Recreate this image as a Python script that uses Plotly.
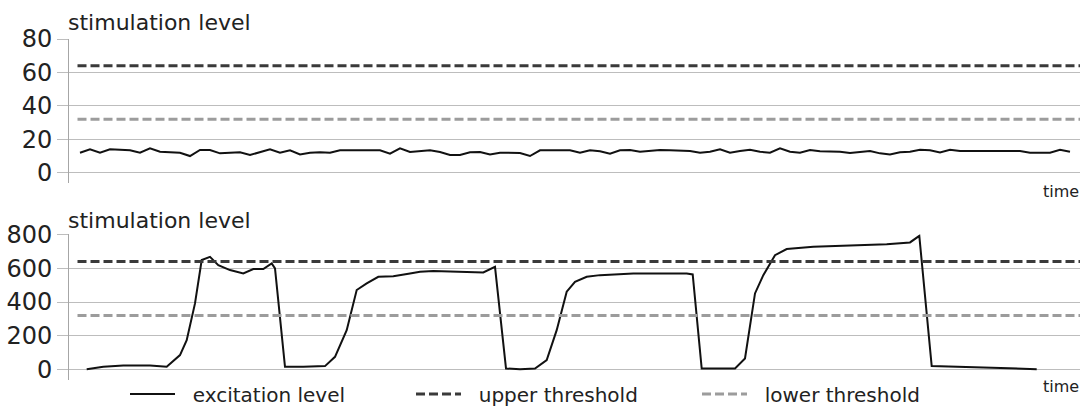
import plotly.graph_objects as go

# ---------------- data ----------------
# top panel: stimulation level (low), sampled every time step
top_time = list(range(100))
top_excitation = [
    12.1, 14.1, 12.1, 14.1, 13.9, 13.5, 12.1, 14.7, 12.7, 12.5,
    12.1, 10.1, 13.7, 13.7, 11.7, 12.1, 12.3, 10.7, 12.5, 14.1,
    12.1, 13.5, 11.1, 12.1, 12.3, 12.1, 13.5, 13.5, 13.5, 13.5,
    13.5, 11.5, 14.7, 12.5, 13.1, 13.5, 12.5, 10.7, 10.7, 12.3,
    12.5, 11.1, 12.1, 12.1, 11.9, 10.1, 13.5, 13.5, 13.5, 13.5,
    12.1, 13.5, 12.9, 11.5, 13.5, 13.7, 12.7, 13.3, 13.7, 13.5,
    13.1, 13.1, 12.1, 12.7, 14.1, 12.1, 13.1, 13.9, 12.7, 12.1,
    14.7, 12.7, 12.1, 13.7, 12.9, 12.7, 12.7, 11.9, 12.5, 13.1,
    11.7, 11.1, 12.3, 12.7, 13.9, 13.5, 12.3, 13.9, 13.1, 13.1,
    13.1, 13.1, 13.1, 13.1, 13.1, 12.1, 12.1, 12.1, 13.9, 12.7,
]
top_upper = [64, 64]
top_lower = [32, 32]

# bottom panel: stimulation level (high)
bottom_time = [
    0.67, 2.33, 4.33, 7.0, 8.67, 10.0, 10.67, 11.5, 12.17, 13.0,
    13.83, 15.0, 16.33, 17.33, 18.33, 19.17, 19.5, 20.5, 22.33, 24.5,
    25.5, 26.67, 27.67, 28.67, 29.83, 31.33, 33.0, 34.0, 35.33, 40.33,
    41.5, 42.6, 44.0, 45.5, 46.67, 47.67, 48.67, 49.5, 50.67, 52.0,
    55.33, 60.67, 61.27, 62.17, 65.5, 66.5, 67.5, 68.33, 69.5, 70.67,
    73.33, 80.67, 83.0, 83.93, 85.17, 95.67,
]
bottom_excitation = [
    4, 18, 26, 26, 18, 87, 175, 392, 648, 667,
    618, 589, 569, 595, 595, 628, 599, 18, 18, 22,
    77, 234, 471, 510, 549, 553, 569, 579, 583, 575,
    608, 8, 4, 8, 57, 234, 461, 520, 549, 559,
    569, 569, 563, 8, 8, 67, 451, 559, 677, 713,
    727, 741, 752, 791, 22, 4,
]
bottom_upper = [640, 640]
bottom_lower = [320, 320]

threshold_time = [-0.25, 100]

series_names = ["excitation level", "upper threshold", "lower threshold"]
y_ticks_top = [0, 20, 40, 60, 80]
y_ticks_bottom = [0, 200, 400, 600, 800]
panel_title = "stimulation level"
x_title = "time"

# ---------------- styles ----------------
FONT = "DejaVu Sans"
C_EXC = "#111111"
C_UP = "#3a3a3a"
C_LOW = "#9c9c9c"
C_GRID = "#bdbdbd"
C_AXIS = "#a6a6a6"
C_TEXT = "#222222"
DASH = "9px,4px"
PAD = "\u00a0\u00a0"  # gap between legend symbol and label

W, H = 1082, 406

def px_y(p):
    return (H - p) / H

fig = go.Figure()

# top panel
fig.add_trace(go.Scatter(x=top_time, y=top_excitation, mode="lines",
                         line=dict(color=C_EXC, width=2), showlegend=False,
                         xaxis="x", yaxis="y"))
fig.add_trace(go.Scatter(x=threshold_time, y=top_upper, mode="lines",
                         line=dict(color=C_UP, width=3, dash=DASH), showlegend=False,
                         xaxis="x", yaxis="y"))
fig.add_trace(go.Scatter(x=threshold_time, y=top_lower, mode="lines",
                         line=dict(color=C_LOW, width=3, dash=DASH), showlegend=False,
                         xaxis="x", yaxis="y"))

# bottom panel
fig.add_trace(go.Scatter(x=bottom_time, y=bottom_excitation, mode="lines",
                         name=PAD + series_names[0],
                         line=dict(color=C_EXC, width=2), xaxis="x2", yaxis="y2"))
fig.add_trace(go.Scatter(x=threshold_time, y=bottom_upper, mode="lines",
                         name=PAD + series_names[1],
                         line=dict(color=C_UP, width=3, dash=DASH), xaxis="x2", yaxis="y2"))
fig.add_trace(go.Scatter(x=threshold_time, y=bottom_lower, mode="lines",
                         name=PAD + series_names[2],
                         line=dict(color=C_LOW, width=3, dash=DASH), xaxis="x2", yaxis="y2"))

xdom = [69 / W, 1080 / W]
xcommon = dict(domain=xdom, range=[-1.1, 100], showgrid=False, zeroline=False,
               showticklabels=False, ticks="", showline=False)
ycommon = dict(showgrid=True, gridcolor=C_GRID, gridwidth=1,
               zeroline=True, zerolinecolor=C_GRID, zerolinewidth=1,
               showline=True, linecolor=C_AXIS, linewidth=1,
               ticks="outside", ticklen=11, tickcolor=C_GRID, tickwidth=1,
               tickfont=dict(family=FONT, size=24, color=C_TEXT),
               automargin=False)

fig.update_layout(
    width=W, height=H,
    margin=dict(l=0, r=0, t=0, b=0, autoexpand=False),
    paper_bgcolor="white", plot_bgcolor="white",
    font=dict(family=FONT, color=C_TEXT),
    xaxis=dict(**xcommon, anchor="y"),
    yaxis=dict(**ycommon, domain=[px_y(183), px_y(39)], range=[-6, 80],
               tickvals=y_ticks_top, anchor="x"),
    xaxis2=dict(**xcommon, anchor="y2"),
    yaxis2=dict(**ycommon, domain=[px_y(380), px_y(234.3)], range=[-60, 800],
                tickvals=y_ticks_bottom, anchor="x2"),
    legend=dict(orientation="h", x=125 / W, xanchor="left",
                y=px_y(394), yanchor="middle",
                font=dict(family=FONT, size=20, color=C_TEXT),
                bgcolor="rgba(0,0,0,0)", entrywidth=226, itemwidth=45),
    annotations=[
        dict(text=panel_title, xref="paper", yref="paper", x=66 / W, y=px_y(22),
             xanchor="left", yanchor="middle", showarrow=False,
             font=dict(family=FONT, size=22, color=C_TEXT)),
        dict(text=panel_title, xref="paper", yref="paper", x=66 / W, y=px_y(220),
             xanchor="left", yanchor="middle", showarrow=False,
             font=dict(family=FONT, size=22, color=C_TEXT)),
        dict(text=x_title, xref="paper", yref="paper", x=1081 / W, y=px_y(191),
             xanchor="right", yanchor="middle", showarrow=False,
             font=dict(family=FONT, size=16, color=C_TEXT)),
        dict(text=x_title, xref="paper", yref="paper", x=1081 / W, y=px_y(386),
             xanchor="right", yanchor="middle", showarrow=False,
             font=dict(family=FONT, size=16, color=C_TEXT)),
    ],
)

fig.write_html("out.html", config={"displayModeBar": False},
               post_script="document.body.style.margin='0px';")
